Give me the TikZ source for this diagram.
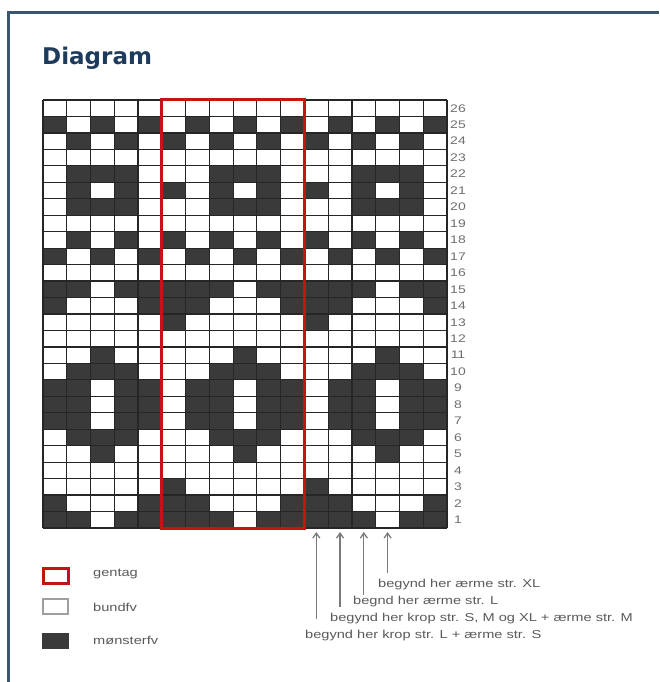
\documentclass[tikz,border=0pt]{standalone}
\usepackage{fontspec}
\setmainfont{Liberation Sans}
\newfontfamily\titlefont{DejaVu Sans}
\usetikzlibrary{arrows.meta}
\definecolor{framecol}{HTML}{3B566E}
\definecolor{titlecol}{HTML}{1F3B5C}
\definecolor{darkcell}{HTML}{3A3A3A}
\definecolor{gridline}{HTML}{262626}
\definecolor{repred}{HTML}{C41414}
\definecolor{labelgrey}{HTML}{5A5A5A}
\definecolor{numgrey}{HTML}{6E6E6E}
\definecolor{arrowgrey}{HTML}{7A7A7A}
\newcommand\stretchtxt[1]{\scalebox{1.27}[1]{#1}}
\def\cw{23.765}
\def\ch{16.4615}
\begin{document}
\begin{tikzpicture}[x=1pt,y=-1pt,
  chartlabel/.style={font=\fontsize{11.5}{13}\selectfont, text=labelgrey, inner sep=0pt, anchor=west},
  rownum/.style={font=\fontsize{11}{13}\selectfont, text=numgrey, inner sep=0pt},
  pointer/.style={draw=arrowgrey, line width=1.3pt, -{Straight Barb[length=5pt,width=7pt]}},
  keybox/.style={minimum width=25pt, minimum height=15pt, inner sep=0pt},
  gridrule/.style={draw=gridline, line width=1.2pt}]
\useasboundingbox (0,0) rectangle (659,682);
\fill[white] (0,0) rectangle (659,682);
\draw[framecol, line width=3pt] (8.5,682) -- (8.5,12.5) -- (659,12.5);
\node[anchor=base west, font=\titlefont\bfseries\fontsize{23}{26}\selectfont, text=titlecol, inner sep=0pt] (title) at (42,65) {Diagram};
% chart cells
\foreach \r/\p in {
 1/{1,1,0,1,1,1}, 2/{1,0,0,0,1,1}, 3/{0,0,0,0,0,1}, 4/{0,0,0,0,0,0},
 5/{0,0,1,0,0,0}, 6/{0,1,1,1,0,0}, 7/{1,1,0,1,1,0}, 8/{1,1,0,1,1,0},
 9/{1,1,0,1,1,0}, 10/{0,1,1,1,0,0}, 11/{0,0,1,0,0,0}, 12/{0,0,0,0,0,0},
 13/{0,0,0,0,0,1}, 14/{1,0,0,0,1,1}, 15/{1,1,0,1,1,1}, 16/{0,0,0,0,0,0},
 17/{1,0,1,0,1,0}, 18/{0,1,0,1,0,1}, 19/{0,0,0,0,0,0}, 20/{0,1,1,1,0,0},
 21/{0,1,0,1,0,1}, 22/{0,1,1,1,0,0}, 23/{0,0,0,0,0,0}, 24/{0,1,0,1,0,1},
 25/{1,0,1,0,1,0}, 26/{0,0,0,0,0,0}} {
  \foreach \c in {0,...,16} {
    \pgfmathtruncatemacro\j{mod(\c,6)}
    \pgfmathtruncatemacro\v{{\p}[\j]}
    \ifnum\v=1
      \fill[darkcell] (43+\c*\cw, 100+26*\ch-\r*\ch) rectangle ++(\cw,\ch);
    \fi
  }
}
\foreach \c in {0,...,17} \draw[gridrule] (43+\c*\cw,100) -- (43+\c*\cw,528);
\foreach \r in {0,...,26} \draw[gridrule] (43,100+\r*\ch) -- (447,100+\r*\ch);
% repeat frame
\draw[repred, line width=3pt] (43+5*\cw,99.5) rectangle (43+11*\cw,528.5);
% row numbers
\foreach \r in {1,...,26}
  \node[rownum] (n\r) at (458, 100+26.5*\ch-\r*\ch) {\stretchtxt{\r}};
% arrow targets
\foreach \k/\c in {1/11,2/12,3/13,4/14}
  \coordinate (t\k) at (43+\c*\cw+0.5*\cw, 532);
% start labels
\node[chartlabel] (s4) at (378,585) {\stretchtxt{begynd her ærme str. XL}};
\node[chartlabel] (s3) at (353,602) {\stretchtxt{begnd her ærme str. L}};
\node[chartlabel] (s2) at (330,619) {\stretchtxt{begynd her krop str. S, M og XL + ærme str. M}};
\node[chartlabel] (s1) at (305,636) {\stretchtxt{begynd her krop str. L + ærme str. S}};
\draw[pointer, shorten <=11pt] (s1.north -| t1) -- (t1);
\draw[pointer, shorten <=6pt] (s2.north -| t2) -- (t2);
\draw[pointer, shorten <=1pt] (s3.north -| t3) -- (t3);
\draw[pointer, shorten <=6pt] (s4.north -| t4) -- (t4);
% legend
\node[keybox, draw=repred, line width=3pt, fill=white] (key1) at (55.5,575.5) {};
\node[chartlabel] (lg1) at (93,574) {\stretchtxt{gentag}};
\node[keybox, draw=gray!75, line width=1.2pt, fill=white] (key2) at (55.5,606.5) {};
\node[chartlabel] (lg2) at (93,607) {\stretchtxt{bundfv}};
\node[keybox, fill=darkcell, minimum width=27pt, minimum height=16pt] (key3) at (55.5,641) {};
\node[chartlabel] (lg3) at (93,640) {\stretchtxt{mønsterfv}};
\end{tikzpicture}
\end{document}
